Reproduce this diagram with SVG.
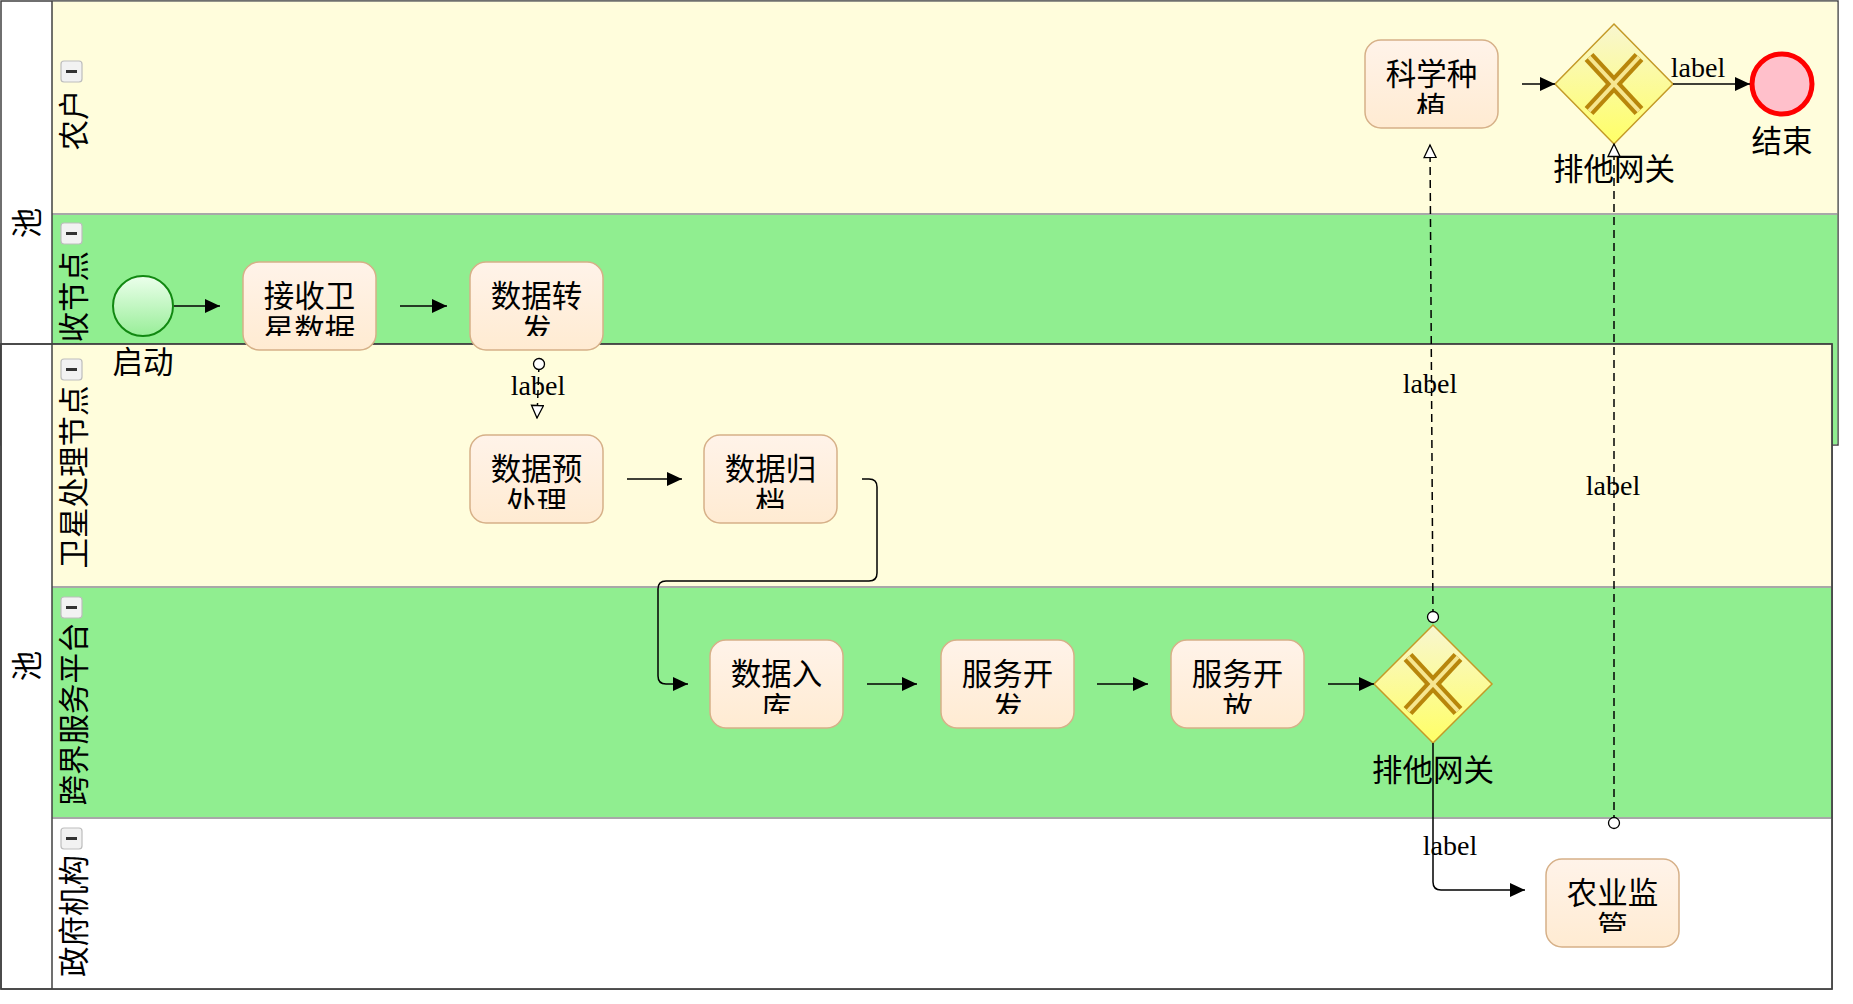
<svg xmlns="http://www.w3.org/2000/svg" width="1853" height="1004" viewBox="0 0 1853 1004">
  <style>
    .pool { fill: #ffffff; stroke: #404040; stroke-width: 1.5; }
    .head { fill: none; stroke: #404040; stroke-width: 1.5; }
    .lane-y { fill: #fffddc; }
    .lane-g { fill: #90ee90; }
    .lane-w { fill: #ffffff; }
    .div { stroke: #a8a8a8; stroke-width: 2; }
    .cjk { font-family: "Noto Sans CJK SC", "Noto Sans", sans-serif; font-size: 30.5px; fill: #000; }
    .vt { text-anchor: middle; dominant-baseline: central; }
    .btn rect { fill: #f2f2f2; stroke: #bdbdbd; stroke-width: 1.2; }
    .btn line { stroke: #333; stroke-width: 3; }
    .task rect { fill: url(#taskFill); stroke: #d6b088; stroke-width: 1.5; }
    .task text { text-anchor: middle; }
    .gw path { fill: url(#gwFill); stroke: #c49a28; stroke-width: 1.5; }
    .gw .xo { stroke: #b8860b; stroke-width: 12; }
    .gw .xi { stroke: #f6e690; stroke-width: 4; }
    .lbl { text-anchor: middle; }
    .flow { fill: none; stroke: #000; stroke-width: 1.5; marker-end: url(#arrow); }
    .msg { fill: none; stroke: #000; stroke-width: 1.5; stroke-dasharray: 8 5; marker-start: url(#dot); marker-end: url(#open); }
    .elbl { font-family: "Liberation Serif", "Times New Roman", serif; font-size: 28px; fill: #000; text-anchor: middle; }
  </style>
  <defs>
    <linearGradient id="taskFill" x1="0" y1="0" x2="0" y2="1">
      <stop offset="0" stop-color="#fff3e9"/>
      <stop offset="1" stop-color="#ffebd2"/>
    </linearGradient>
    <linearGradient id="gwFill" x1="0" y1="0" x2="0" y2="1">
      <stop offset="0" stop-color="#f8f6d0"/>
      <stop offset="1" stop-color="#ffff66"/>
    </linearGradient>
    <linearGradient id="startFill" x1="0" y1="0" x2="0" y2="1">
      <stop offset="0" stop-color="#ecffec"/>
      <stop offset="1" stop-color="#98ee98"/>
    </linearGradient>
    <marker id="arrow" markerUnits="userSpaceOnUse" viewBox="0 0 15 14" refX="15" refY="7" markerWidth="15" markerHeight="14" orient="auto">
      <path d="M0,0 L15,7 L0,14 Z" fill="#000"/>
    </marker>
    <marker id="open" markerUnits="userSpaceOnUse" viewBox="-1 -1 15 14" refX="12.5" refY="6" markerWidth="15" markerHeight="14" orient="auto">
      <path d="M0,0 L12.5,6 L0,12 Z" fill="#fff" stroke="#000" stroke-width="1.3"/>
    </marker>
    <marker id="dot" markerUnits="userSpaceOnUse" viewBox="-8 -8 16 16" refX="0" refY="0" markerWidth="16" markerHeight="16" orient="auto">
      <circle r="5.5" fill="#fff" stroke="#000" stroke-width="1.3"/>
    </marker>
  </defs>

  <!-- upper pool -->
  <g id="pool1">
    <rect class="pool" x="1" y="1" width="1837" height="444"/>
    <rect class="lane-y" x="52" y="1.75" width="1785.25" height="212"/>
    <rect class="lane-g" x="52" y="214" width="1785.25" height="230.25"/>
    <line class="div" x1="52" y1="214" x2="1837" y2="214"/>
    <line class="head" x1="52" y1="1" x2="52" y2="445"/>
    <text class="cjk vt" transform="translate(25,223) rotate(-90)">池</text>
  </g>
  <g id="lane-farmer">
    <g class="btn"><rect x="61" y="61" width="21" height="21" rx="3"/><line x1="66" y1="71.5" x2="77" y2="71.5"/></g>
    <text class="cjk vt" transform="translate(72,120) rotate(-90)">农户</text>
  </g>
  <g id="lane-receive">
    <g class="btn"><rect x="61" y="223" width="21" height="21" rx="3"/><line x1="66" y1="233.5" x2="77" y2="233.5"/></g>
    <text class="cjk vt" transform="translate(72,312) rotate(-90)">接收节点</text>
  </g>

  <!-- lower pool -->
  <g id="pool2">
    <rect class="pool" x="1" y="344" width="1831" height="645"/>
    <rect class="lane-y" x="52" y="344.75" width="1779.25" height="242.25"/>
    <rect class="lane-g" x="52" y="587" width="1779.25" height="231"/>
    <rect class="lane-w" x="52" y="818" width="1779.25" height="170.25"/>
    <line class="div" x1="52" y1="587" x2="1831" y2="587"/>
    <line class="div" x1="52" y1="818" x2="1831" y2="818"/>
    <rect class="head" x="1" y="344" width="1831" height="645"/>
    <line class="head" x1="52" y1="344" x2="52" y2="989"/>
    <text class="cjk vt" transform="translate(25,666) rotate(-90)">池</text>
  </g>
  <g id="lane-sat">
    <g class="btn"><rect x="61" y="359" width="21" height="21" rx="3"/><line x1="66" y1="369.5" x2="77" y2="369.5"/></g>
    <text class="cjk vt" transform="translate(72,477) rotate(-90)">卫星处理节点</text>
  </g>
  <g id="lane-platform">
    <g class="btn"><rect x="61" y="597" width="21" height="21" rx="3"/><line x1="66" y1="607.5" x2="77" y2="607.5"/></g>
    <text class="cjk vt" transform="translate(72,714) rotate(-90)">跨界服务平台</text>
  </g>
  <g id="lane-gov">
    <g class="btn"><rect x="61" y="828" width="21" height="21" rx="3"/><line x1="66" y1="838.5" x2="77" y2="838.5"/></g>
    <text class="cjk vt" transform="translate(72,916) rotate(-90)">政府机构</text>
  </g>

  <!-- events -->
  <g id="start">
    <circle cx="143" cy="306" r="30" fill="url(#startFill)" stroke="#118811" stroke-width="2"/>
    <text class="cjk lbl" x="143" y="373">启动</text>
  </g>
  <g id="end">
    <circle cx="1782" cy="84" r="30" fill="#ffc0cb" stroke="#ff0000" stroke-width="5"/>
    <text class="cjk lbl" x="1782" y="152">结束</text>
  </g>

  <!-- tasks: the label box clips the wrapped second line -->
  <g id="task-receive" class="task">
    <rect x="243" y="262" width="133" height="88" rx="16"/>
    <svg x="243" y="262" width="133" height="74"><text class="cjk" x="66.5" y="45">接收卫<tspan x="66.5" dy="34">星数据</tspan></text></svg>
  </g>
  <g id="task-forward" class="task">
    <rect x="470" y="262" width="133" height="88" rx="16"/>
    <svg x="470" y="262" width="133" height="74"><text class="cjk" x="66.5" y="45">数据转<tspan x="66.5" dy="34">发</tspan></text></svg>
  </g>
  <g id="task-preprocess" class="task">
    <rect x="470" y="435" width="133" height="88" rx="16"/>
    <svg x="470" y="435" width="133" height="74"><text class="cjk" x="66.5" y="45">数据预<tspan x="66.5" dy="34">处理</tspan></text></svg>
  </g>
  <g id="task-archive" class="task">
    <rect x="704" y="435" width="133" height="88" rx="16"/>
    <svg x="704" y="435" width="133" height="74"><text class="cjk" x="66.5" y="45">数据归<tspan x="66.5" dy="34">档</tspan></text></svg>
  </g>
  <g id="task-store" class="task">
    <rect x="710" y="640" width="133" height="88" rx="16"/>
    <svg x="710" y="640" width="133" height="74"><text class="cjk" x="66.5" y="45">数据入<tspan x="66.5" dy="34">库</tspan></text></svg>
  </g>
  <g id="task-develop" class="task">
    <rect x="941" y="640" width="133" height="88" rx="16"/>
    <svg x="941" y="640" width="133" height="74"><text class="cjk" x="66.5" y="45">服务开<tspan x="66.5" dy="34">发</tspan></text></svg>
  </g>
  <g id="task-open" class="task">
    <rect x="1171" y="640" width="133" height="88" rx="16"/>
    <svg x="1171" y="640" width="133" height="74"><text class="cjk" x="66.5" y="45">服务开<tspan x="66.5" dy="34">放</tspan></text></svg>
  </g>
  <g id="task-plant" class="task">
    <rect x="1365" y="40" width="133" height="88" rx="16"/>
    <svg x="1365" y="40" width="133" height="74"><text class="cjk" x="66.5" y="45">科学种<tspan x="66.5" dy="34">植</tspan></text></svg>
  </g>
  <g id="task-supervise" class="task">
    <rect x="1546" y="859" width="133" height="88" rx="16"/>
    <svg x="1546" y="859" width="133" height="74"><text class="cjk" x="66.5" y="45">农业监<tspan x="66.5" dy="34">管</tspan></text></svg>
  </g>

  <!-- exclusive gateways -->
  <g id="gateway-top" class="gw">
    <path d="M1614,24 L1673,84 L1614,144 L1555,84 Z"/>
    <line class="xo" x1="1589" y1="57" x2="1639" y2="111"/>
    <line class="xo" x1="1639" y1="57" x2="1589" y2="111"/>
    <line class="xi" x1="1589" y1="57" x2="1639" y2="111"/>
    <line class="xi" x1="1639" y1="57" x2="1589" y2="111"/>
    <text class="cjk lbl" x="1614" y="180">排他网关</text>
  </g>
  <g id="gateway-bottom" class="gw">
    <path d="M1433,625 L1492,684 L1433,743 L1374,684 Z"/>
    <line class="xo" x1="1408" y1="657" x2="1458" y2="711"/>
    <line class="xo" x1="1458" y1="657" x2="1408" y2="711"/>
    <line class="xi" x1="1408" y1="657" x2="1458" y2="711"/>
    <line class="xi" x1="1458" y1="657" x2="1408" y2="711"/>
    <text class="cjk lbl" x="1433" y="781">排他网关</text>
  </g>

  <!-- connectors -->
  <g id="connectors">
    <path class="flow" d="M174,306 H220"/>
    <path class="flow" d="M400,306 H447"/>
    <path class="msg" d="M539,364 L537,418"/>
    <text class="elbl" x="538" y="395">label</text>
    <path class="flow" d="M627,479 H682"/>
    <path class="flow" d="M862,479 H869 Q877,479 877,487 V573 Q877,581 869,581 H666 Q658,581 658,589 V676 Q658,684 666,684 H688"/>
    <path class="flow" d="M867,684 H917"/>
    <path class="flow" d="M1097,684 H1148"/>
    <path class="flow" d="M1328,684 H1374"/>
    <path class="msg" d="M1433,617 L1430,145"/>
    <text class="elbl" x="1430" y="393">label</text>
    <path class="msg" d="M1614,823 L1614,144"/>
    <text class="elbl" x="1613" y="495">label</text>
    <path class="flow" d="M1433,743 V882 Q1433,890 1441,890 H1525"/>
    <text class="elbl" x="1450" y="855">label</text>
    <path class="flow" d="M1522,84 H1555"/>
    <path class="flow" d="M1673,84 H1750"/>
    <text class="elbl" x="1698" y="77">label</text>
  </g>
</svg>
